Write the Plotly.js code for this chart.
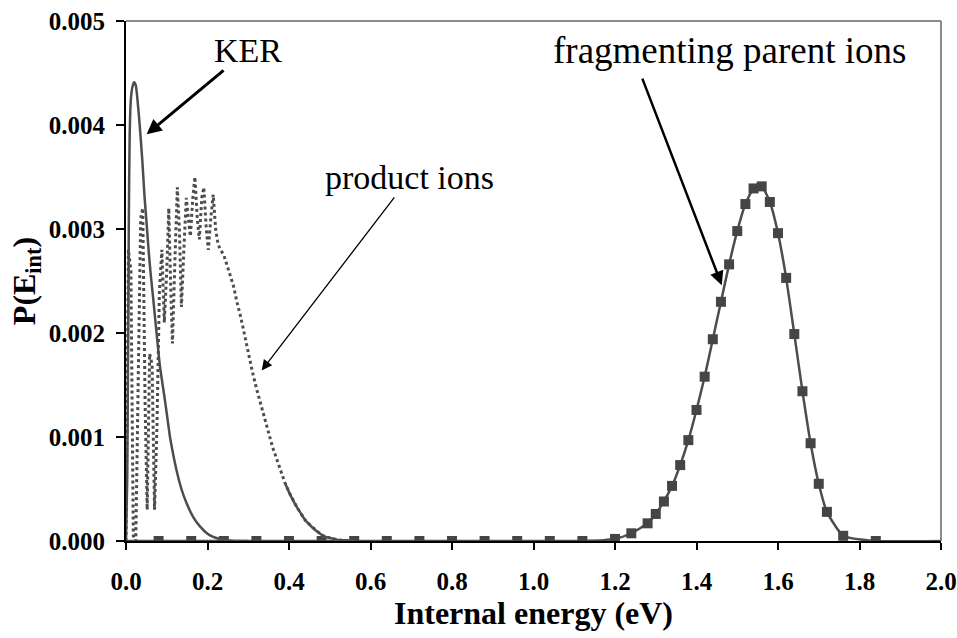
<!DOCTYPE html>
<html>
<head>
<meta charset="utf-8">
<script src="https://cdn.plot.ly/plotly-3.0.1.min.js"></script>
<style>html,body{margin:0;padding:0;background:#fff;}#chart{width:957px;height:638px;}</style>
</head>
<body>
<div id="chart"></div>
<script>
// KER distribution (solid line)
const kerE = [0, 0.003, 0.005, 0.007, 0.009, 0.012, 0.016, 0.020, 0.024, 0.028, 0.034, 0.040, 0.045, 0.050, 0.055, 0.060, 0.066, 0.071, 0.077, 0.083, 0.090, 0.096, 0.102, 0.108, 0.116, 0.124, 0.136, 0.149, 0.165, 0.182, 0.200, 0.214, 0.230, 0.247, 0.270, 0.300];
const kerP = [0, 0.0006, 0.0018, 0.0031, 0.0039, 0.00425, 0.00437, 0.00441, 0.00438, 0.00425, 0.00398, 0.00366, 0.00334, 0.00308, 0.00282, 0.00259, 0.00236, 0.00216, 0.00192, 0.00169, 0.00150, 0.00134, 0.00117, 0.00100, 0.00083, 0.00068, 0.00050, 0.00036, 0.00023, 0.000138, 0.00007, 0.00004, 0.00002, 0.00001, 0, 0];

// product ions (dotted line)
const prodE = [0.000, 0.006, 0.012, 0.018, 0.024, 0.030, 0.036, 0.041, 0.047, 0.052, 0.058, 0.064, 0.070, 0.076, 0.082, 0.088, 0.094, 0.100, 0.105, 0.110, 0.114, 0.120, 0.126, 0.131, 0.136, 0.142, 0.148, 0.153, 0.158, 0.164, 0.169, 0.175, 0.180, 0.186, 0.191, 0.197, 0.202, 0.208, 0.214, 0.220, 0.226, 0.232, 0.240, 0.248, 0.256, 0.264, 0.272, 0.280, 0.290, 0.300, 0.310, 0.320, 0.330, 0.340, 0.350, 0.360, 0.370, 0.380, 0.390, 0.400, 0.410, 0.420, 0.430, 0.440, 0.450, 0.460, 0.470, 0.480, 0.490, 0.500, 0.520, 0.540, 0.560];
const prodP = [0, 0.0028, 0.0026, 0.00005, 0.0, 0.0016, 0.0031, 0.0032, 0.0013, 0.0003, 0.0018, 0.0017, 0.0003, 0.0011, 0.0024, 0.0028, 0.0021, 0.0026, 0.0032, 0.0024, 0.0019, 0.0027, 0.0034, 0.0030, 0.00225, 0.0028, 0.0033, 0.0031, 0.00293, 0.0033, 0.0035, 0.0031, 0.0029, 0.0033, 0.0034, 0.0030, 0.0028, 0.0031, 0.00333, 0.0030, 0.00285, 0.0028, 0.00275, 0.00265, 0.00256, 0.00245, 0.0023, 0.00218, 0.0020, 0.00180, 0.00163, 0.00147, 0.00132, 0.00118, 0.00104, 0.00090, 0.00078, 0.00066, 0.00056, 0.00047, 0.00039, 0.00032, 0.00026, 0.00020, 0.00016, 0.00012, 0.00009, 0.00006, 0.00004, 0.00003, 0.00001, 0.000005, 0];

// fragmenting parent ions (line with square markers)
const parentE = [0.08, 0.16, 0.24, 0.32, 0.40, 0.48, 0.56, 0.64, 0.72, 0.80, 0.88, 0.96, 1.04, 1.12, 1.20, 1.24, 1.28, 1.30, 1.32, 1.34, 1.36, 1.38, 1.40, 1.42, 1.44, 1.46, 1.48, 1.50, 1.52, 1.54, 1.56, 1.58, 1.60, 1.62, 1.64, 1.66, 1.68, 1.70, 1.72, 1.76, 1.84];
const parentP = [0, 0, 0, 0, 0, 0, 0, 0, 0, 0, 0, 0, 0, 0, 0.00002, 0.000074, 0.00017, 0.00026, 0.00038, 0.00053, 0.00073, 0.00097, 0.00126, 0.00158, 0.00194, 0.00230, 0.00266, 0.00298, 0.00324, 0.00339, 0.00341, 0.00326, 0.00296, 0.00253, 0.00199, 0.00144, 0.00094, 0.00055, 0.00028, 0.00005, 0];
const rangeStartE = 0.0, rangeEndE = 2.0;

const xTicks = [0.0, 0.2, 0.4, 0.6, 0.8, 1.0, 1.2, 1.4, 1.6, 1.8, 2.0];
const yTicks = [0.000, 0.001, 0.002, 0.003, 0.004, 0.005];

const curveColor = '#4d4d4d';
const serif = 'Liberation Serif, Times New Roman, serif';

// product tail drawn solid (where the dotted pattern merges)
const tailE = prodE.filter(e => e >= 0.39);
const tailP = prodP.filter((p, i) => prodE[i] >= 0.39);

const traces = [
  {x: [rangeStartE].concat(parentE, [rangeEndE]), y: [0].concat(parentP, [0]), mode: 'lines',
   line: {color: curveColor, width: 2.5, shape: 'spline', smoothing: 0.5}, hoverinfo: 'skip', showlegend: false},
  {x: parentE, y: parentP, mode: 'markers',
   marker: {symbol: 'square', size: 10, color: '#454545'}, showlegend: false},
  {x: prodE, y: prodP, mode: 'lines',
   line: {color: curveColor, width: 3, dash: '3px,3px'}, showlegend: false},
  {x: tailE, y: tailP, mode: 'lines',
   line: {color: curveColor, width: 2.5, shape: 'spline'}, showlegend: false},
  {x: kerE, y: kerP, mode: 'lines',
   line: {color: curveColor, width: 2.5, shape: 'spline', smoothing: 0.6}, showlegend: false}
];

const tickFont = {family: serif, size: 25, color: '#000', weight: 700};

const layout = {
  width: 957, height: 638,
  margin: {l: 126, r: 16, t: 21, b: 97},
  paper_bgcolor: '#fff', plot_bgcolor: '#fff',
  font: {family: serif, color: '#000'},
  xaxis: {
    range: [0, 2.0], tickvals: xTicks, ticktext: xTicks.map(v => '<b>' + v.toFixed(1) + '</b>'),
    showgrid: false, zeroline: false, showline: true, linecolor: '#000', linewidth: 2,
    ticks: 'outside', ticklen: 7, tickwidth: 2, tickcolor: '#000', ticklabelstandoff: 10,
    tickfont: tickFont,
    title: {text: '<b>Internal energy (eV)</b>', font: {family: serif, size: 32, color: '#000'}, standoff: 6}
  },
  yaxis: {
    range: [0, 0.005], tickvals: yTicks, ticktext: yTicks.map(v => '<b>' + v.toFixed(3) + '</b>'),
    showgrid: false, zeroline: false, showline: true, linecolor: '#000', linewidth: 2,
    ticks: 'outside', ticklen: 8, tickwidth: 2, tickcolor: '#000', ticklabelstandoff: 6,
    tickfont: tickFont,
    title: {text: '<b>P(E<sub>int</sub>)</b>', font: {family: serif, size: 32, color: '#000'}, standoff: 4}
  },
  shapes: [
    {type: 'line', xref: 'paper', yref: 'paper', x0: 0, x1: 1, y0: 1, y1: 1, line: {color: '#666', width: 1.5}},
    {type: 'line', xref: 'paper', yref: 'paper', x0: 1, x1: 1, y0: 0, y1: 1, line: {color: '#666', width: 1.5}}
  ],
  annotations: [
    {x: 0.0506, y: 0.00391, xref: 'x', yref: 'y', ax: 101, ay: -84, text: 'KER', showarrow: true,
     arrowhead: 2, arrowsize: 1, arrowwidth: 3, arrowcolor: '#000',
     font: {family: serif, size: 34, color: '#000'}},
    {x: 0.333, y: 0.00164, xref: 'x', yref: 'y', ax: 148, ay: -193, text: 'product ions', showarrow: true,
     arrowhead: 2, arrowsize: 1.6, arrowwidth: 1.3, arrowcolor: '#000',
     font: {family: serif, size: 34, color: '#000'}},
    {x: 1.48, y: 0.00472, xref: 'x', yref: 'y', text: 'fragmenting parent ions', showarrow: false,
     font: {family: serif, size: 37, color: '#000'}},
    {x: 1.462, y: 0.00246, xref: 'x', yref: 'y', ax: -80, ay: -208, text: '', showarrow: true,
     arrowhead: 2, arrowsize: 1.1, arrowwidth: 2.5, arrowcolor: '#000'}
  ]
};

Plotly.newPlot('chart', traces, layout, {displayModeBar: false, staticPlot: true});
</script>
</body>
</html>
